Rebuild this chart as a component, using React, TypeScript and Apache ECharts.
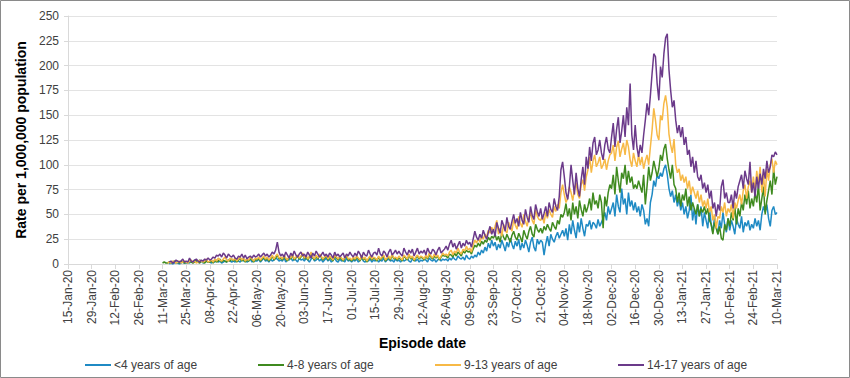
import React, { useEffect, useRef } from "react";
import * as echarts from "echarts";

// Axis labels / names
const Y_TITLE = "Rate per 1,000,000 population";
const X_TITLE = "Episode date";
const SERIES_NAMES = ["<4 years of age", "4-8 years of age", "9-13 years of age", "14-17 years of age"];
const COLORS = ["#1f8ac4", "#3f8a1f", "#f7b946", "#6b3a8a"];

// Category axis: daily from 15-Jan-20 to 10-Mar-21
const FIRST_DAY = Date.UTC(2020, 0, 15);
const DAY_COUNT = 421;
const MONTHS = ["Jan", "Feb", "Mar", "Apr", "May", "Jun", "Jul", "Aug", "Sep", "Oct", "Nov", "Dec"];
// index of first data value (11-Mar-20)
const DATA_START = 56;

// Daily rates, 11-Mar-20 .. 10-Mar-21 (14 values per row)
const under4 = [
  null,null,null,null,0,1,0,1,2,1,0,1,2,1,
  1,2,1,3,2,4,3,2,4,3,1,2,3,2,
  2,1,3,2,4,2,3,1,2,3,2,4,3,2,
  3,2,4,3,2,5,3,4,2,3,5,2,4,3,
  3,5,2,4,6,3,4,2,5,3,4,6,5,3,
  4,3,6,2,5,4,7,3,5,4,2,6,4,5,
  3,6,4,2,5,7,3,4,6,3,5,2,4,6,
  3,5,2,4,6,3,2,5,3,4,2,6,3,4,
  2,4,3,5,2,4,6,3,2,4,3,5,2,4,
  3,5,2,4,3,6,2,4,5,3,4,2,5,3,
  4,2,5,3,4,6,3,2,5,4,3,5,2,4,
  3,5,4,2,6,4,3,5,2,4,6,3,5,4,
  5,3,6,4,7,5,4,8,6,5,7,4,9,6,
  5,8,6,9,7,12,9,14,11,17,13,21,16,24,
  18,22,14,20,16,24,19,13,22,17,26,20,15,23,
  18,25,14,21,16,24,19,12,22,27,17,13,25,20,
  24,22,9,20,28,18,30,25,22,28,32,26,30,34,
  28,36,24,40,30,44,34,26,42,32,46,36,28,40,
  38,44,35,42,40,36,45,38,42,46,52,44,58,50,
  56,62,48,70,58,52,76,60,66,50,72,58,64,54,
  62,52,58,48,60,54,40,46,38,62,70,84,78,90,
  86,92,88,96,100,90,76,68,74,62,70,58,66,54,
  62,50,58,46,54,70,44,56,40,60,48,58,38,52,
  44,36,56,40,32,48,38,30,44,36,52,40,32,46,
  34,44,38,30,46,40,36,48,32,42,38,44,34,40,
  36,46,38,44,34,50,58,52,60,46,38,54,58,50,
  52,
];

const age4to8 = [
  1,2,1,1,2,1,2,3,1,2,1,3,2,1,
  2,1,3,2,1,2,4,2,1,3,2,1,3,2,
  2,3,1,4,2,3,5,2,4,3,2,4,3,5,
  3,5,2,4,6,3,5,2,4,3,6,4,2,5,
  4,6,3,5,7,4,6,3,5,8,4,6,9,5,
  6,4,8,5,3,7,5,9,4,6,8,5,7,10,
  5,8,4,7,10,6,4,8,5,9,7,4,6,8,
  4,7,5,3,8,6,4,7,5,3,6,8,4,5,
  3,6,4,7,5,3,8,4,6,2,5,7,4,6,
  5,3,7,4,6,8,3,5,7,4,9,5,6,4,
  6,5,3,8,6,4,9,5,7,3,6,8,5,7,
  6,4,8,5,9,7,5,8,6,8,4,7,9,8,
  8,6,10,9,7,11,8,12,10,8,13,11,14,12,
  13,10,15,19,17,21,18,23,20,24,22,27,24,28,
  26,30,24,28,22,32,27,24,30,26,22,29,33,27,
  24,31,27,22,34,29,25,33,38,30,27,40,35,32,
  36,31,38,34,40,36,33,42,38,35,44,40,50,47,
  52,61,48,56,44,62,50,58,46,64,55,48,60,52,
  58,66,54,72,60,64,56,70,62,36,68,58,72,80,
  76,90,70,98,84,72,92,86,100,80,94,82,88,76,
  80,76,84,78,72,90,60,78,98,84,92,104,96,88,
  96,110,104,116,121,106,95,86,100,80,76,62,72,58,
  70,64,76,58,68,54,62,56,50,60,48,56,52,58,
  50,56,44,40,30,42,36,30,38,26,24,40,34,46,
  38,52,44,58,40,56,48,62,54,70,60,74,56,66,
  58,72,62,80,54,66,78,50,64,74,84,70,96,80,
  88,
];

const age9to13 = [
  null,null,null,1,2,1,3,2,1,2,3,1,2,3,
  2,1,3,4,2,3,1,2,4,3,2,3,5,2,
  3,4,2,5,3,6,4,3,5,7,4,3,6,5,
  4,6,3,5,7,4,6,3,5,4,7,5,3,6,
  5,7,4,6,8,5,7,4,6,9,5,8,10,6,
  7,5,9,6,4,8,6,10,5,7,9,6,8,11,
  6,9,5,8,12,7,5,9,6,10,8,5,7,9,
  5,8,6,4,9,7,5,8,6,4,7,9,5,6,
  4,7,5,8,6,4,9,5,7,3,6,8,5,7,
  6,4,8,5,7,9,4,6,8,5,10,6,7,5,
  8,6,4,9,7,5,10,6,8,4,7,9,6,8,
  7,5,9,6,11,8,6,10,7,9,5,8,11,9,
  10,8,12,14,9,13,11,16,12,10,15,13,18,14,
  16,12,19,24,21,26,22,28,25,30,27,34,31,37,
  33,38,44,30,36,28,40,34,31,42,37,33,45,39,
  35,48,41,37,50,43,38,47,52,44,40,55,48,45,
  44,48,41,52,46,55,50,47,58,53,60,56,72,80,
  70,62,66,78,72,64,75,82,70,66,80,85,74,88,
  95,108,92,104,110,98,102,108,96,100,106,95,104,110,
  112,120,104,118,124,108,116,122,110,125,118,105,98,112,
  104,98,110,100,108,96,104,110,100,118,135,157,145,130,
  125,150,145,162,170,158,131,120,112,126,100,92,96,84,
  90,82,88,76,84,70,78,72,66,74,62,70,58,64,
  56,66,52,58,44,50,36,48,46,58,52,62,48,56,
  52,60,46,62,56,64,70,60,74,80,66,78,84,72,
  88,74,94,80,98,72,90,68,96,84,100,106,92,104,
  100,
];

const age14to17 = [
  null,null,null,null,2,3,1,2,4,3,2,3,5,2,
  3,2,6,3,2,4,5,3,2,4,3,5,4,6,
  4,5,7,6,9,8,10,7,11,9,6,10,8,7,
  9,6,5,8,7,10,6,9,5,7,8,6,9,7,
  8,10,7,9,11,8,10,7,9,12,10,14,22,12,
  8,10,7,12,9,6,11,8,13,9,7,10,12,8,
  10,7,12,9,6,11,8,13,10,7,9,12,8,10,
  7,11,9,6,12,8,10,7,9,11,6,10,8,12,
  9,7,11,8,13,10,6,12,9,8,14,10,7,11,
  12,9,16,10,8,13,11,7,12,15,9,11,14,10,
  13,10,8,16,12,9,14,11,15,8,12,16,10,13,
  11,14,9,16,12,10,15,13,9,14,17,11,13,15,
  18,14,20,24,17,21,15,19,23,16,21,18,24,20,
  22,17,25,33,27,24,30,26,34,29,25,32,38,30,
  35,28,42,36,31,44,39,33,47,38,35,43,50,41,
  46,38,52,44,40,55,47,42,58,49,45,60,53,48,
  56,45,51,58,48,62,55,52,66,58,54,68,95,103,
  88,72,65,78,100,84,70,92,76,68,85,98,80,108,
  96,118,104,122,128,110,115,125,112,105,120,128,116,112,
  128,142,118,136,148,122,134,150,128,158,140,182,130,115,
  140,118,108,120,112,130,145,162,150,170,192,212,209,182,
  165,199,188,212,228,232,196,175,158,165,145,132,140,128,
  138,120,128,110,115,98,108,92,104,88,84,90,76,82,
  72,80,66,74,56,62,48,60,54,78,85,66,72,62,
  62,70,56,74,66,78,84,90,76,94,86,80,103,72,
  82,68,88,76,91,80,96,86,104,92,98,110,108,113,
  110,
];

const SERIES_DATA = [under4, age4to8, age9to13, age14to17];
const LEGEND_LEFT = [85, 258, 435, 618];

const FONT = "'Liberation Sans', Arial, sans-serif";

function fmtDate(ms: number): string {
  const d = new Date(ms);
  const dd = String(d.getUTCDate()).padStart(2, "0");
  const yy = String(d.getUTCFullYear() % 100).padStart(2, "0");
  return `${dd}-${MONTHS[d.getUTCMonth()]}-${yy}`;
}

export default function App() {
  const ref = useRef<HTMLDivElement>(null);
  useEffect(() => {
    if (!ref.current) return;
    const chart = echarts.init(ref.current, undefined, { renderer: "svg" });
    const categories: string[] = [];
    for (let i = 0; i < DAY_COUNT; i++) categories.push(fmtDate(FIRST_DAY + i * 86400000));
    const pad: (number | null)[] = new Array(DATA_START).fill(null);

    chart.setOption({
      animation: false,
      backgroundColor: "#ffffff",
      textStyle: { fontFamily: FONT },
      graphic: [
        {
          type: "rect",
          shape: { x: 0.5, y: 0.5, width: 849, height: 377 },
          style: { fill: "none", stroke: "#8a8a8a", lineWidth: 1 },
          silent: true,
        },
      ],
      grid: { left: 68, right: 73, top: 16, bottom: 114 },
      legend: SERIES_NAMES.map((n, i) => ({
        data: [n],
        left: LEGEND_LEFT[i],
        top: 359,
        icon: "rect",
        itemWidth: 26,
        itemHeight: 2,
        itemGap: 0,
        padding: 0,
        textStyle: { color: "#404040", fontSize: 12, fontFamily: FONT, padding: [0, 0, 0, -2] },
      })),
      xAxis: {
        type: "category",
        data: categories,
        boundaryGap: false,
        name: X_TITLE,
        nameLocation: "middle",
        nameGap: 72,
        nameTextStyle: { fontSize: 14, fontWeight: "bold", color: "#000000", fontFamily: FONT },
        axisLine: { lineStyle: { color: "#d9d9d9" } },
        axisTick: { interval: 13, length: 5, lineStyle: { color: "#d9d9d9" } },
        axisLabel: {
          interval: 13,
          rotate: 90,
          fontSize: 12,
          color: "#404040",
          fontFamily: FONT,
          margin: 6,
        },
        splitLine: { show: false },
      },
      yAxis: {
        type: "value",
        min: 0,
        max: 250,
        interval: 25,
        name: Y_TITLE,
        nameLocation: "middle",
        nameGap: 40,
        nameTextStyle: { fontSize: 14, fontWeight: "bold", color: "#000000", fontFamily: FONT },
        axisLine: { show: true, lineStyle: { color: "#d9d9d9" } },
        axisTick: { show: true, length: 4, lineStyle: { color: "#d9d9d9" } },
        axisLabel: { fontSize: 12, color: "#404040", fontFamily: FONT, margin: 9 },
        splitLine: { lineStyle: { color: "#e3e3e3" } },
      },
      series: SERIES_NAMES.map((n, i) => ({
        name: n,
        type: "line",
        data: pad.concat(SERIES_DATA[i] as (number | null)[]),
        showSymbol: false,
        symbol: "none",
        lineStyle: { color: COLORS[i], width: 1.5 },
        itemStyle: { color: COLORS[i] },
        connectNulls: false,
        z: 2 + i,
      })),
    });
    return () => chart.dispose();
  }, []);
  return (
    <div
      ref={ref}
      style={{ position: "absolute", left: 0, top: 0, width: 850, height: 378 }}
    />
  );
}
